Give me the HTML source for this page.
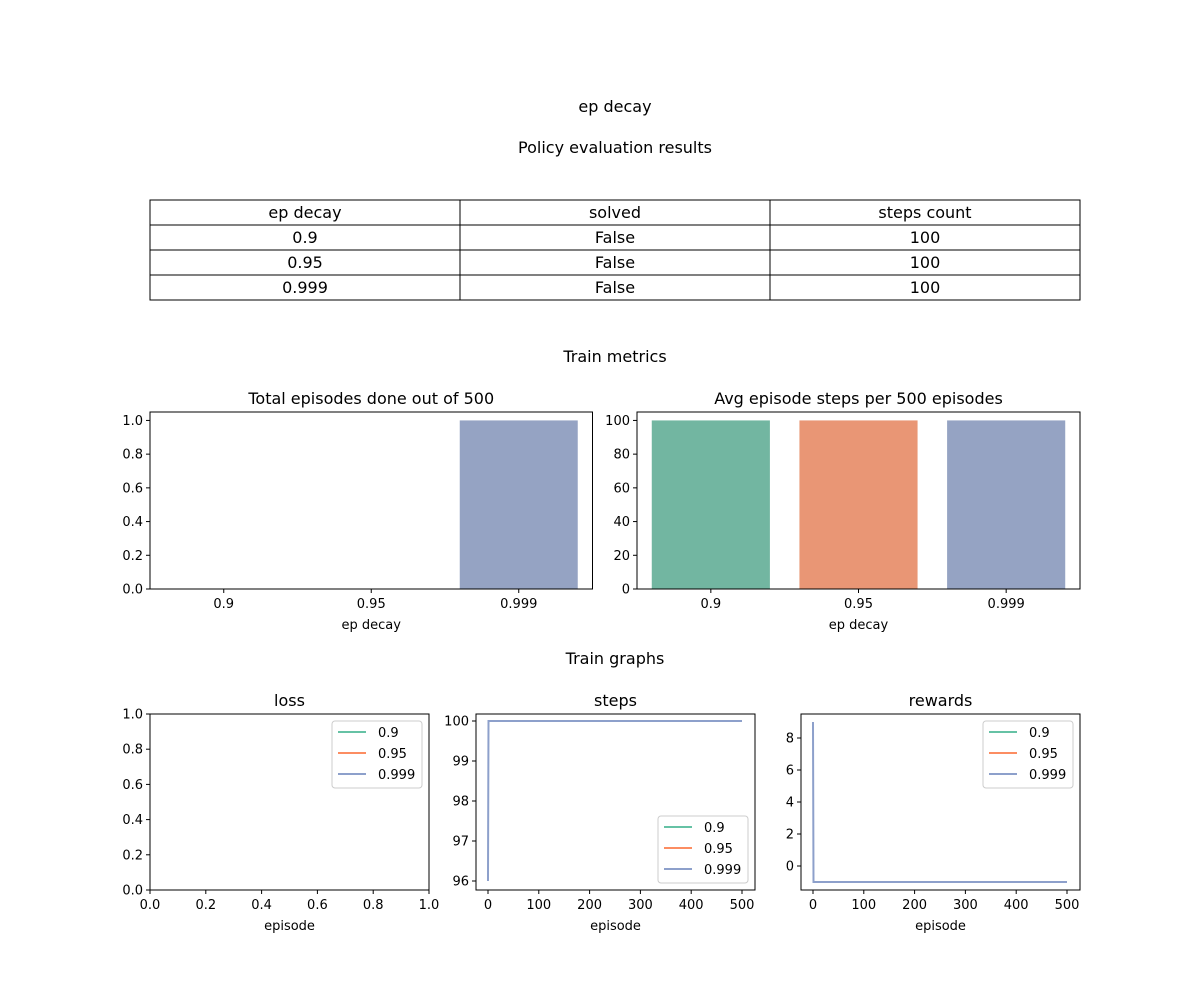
<!DOCTYPE html>
<html><head><meta charset="utf-8"><style>
body{margin:0;background:#fff;}
svg{display:block;font-family:"DejaVu Sans","Liberation Sans",sans-serif;}
</style></head><body>
<svg id="fig" width="1200" height="1000" viewBox="0 0 1200 1000">
<rect width="1200" height="1000" fill="#fff"/>
<text x="615" y="112" font-size="16" text-anchor="middle">ep decay</text>
<text x="615" y="153" font-size="16" text-anchor="middle">Policy evaluation results</text>
<g id="table"></g>
<text x="615" y="362" font-size="16" text-anchor="middle">Train metrics</text>
<text x="615" y="664" font-size="16" text-anchor="middle">Train graphs</text>
<g id="charts"></g>
</svg>
<script>
const tableHeader = ["ep decay","solved","steps count"];
const tableRows = [["0.9","False","100"],["0.95","False","100"],["0.999","False","100"]];
const categories = ["0.9","0.95","0.999"];
const episodesDone = [0,0,1];
const avgSteps = [100,100,100];
const barColors = ["#72b6a1","#e99675","#95a3c3"];
const lineColors = ["#66c2a5","#fc8d62","#8da0cb"];
const episodeX = [0,1,500];
const stepsSeries = [[100,100,100],[100,100,100],[96,100,100]];
const rewardsSeries = [[-1,-1,-1],[-1,-1,-1],[9,-1,-1]];
const lossSeries = [[],[],[]];

const NS="http://www.w3.org/2000/svg";
const svg=document.getElementById('fig');
function mk(tag,attrs,parent,text){const e=document.createElementNS(NS,tag);for(const k in attrs)e.setAttribute(k,attrs[k]);if(text!==undefined)e.textContent=text;(parent||svg).appendChild(e);return e;}

// table
const tg=document.getElementById('table');
const colX=[150,460,770,1080];
[tableHeader,...tableRows].forEach((row,r)=>{
  row.forEach((cell,c)=>{
    const y=200+r*25;
    const rc=mk('rect',{x:colX[c],y:y,width:colX[c+1]-colX[c],height:25,fill:'#fff',stroke:'#000','stroke-width':1},tg);
    
    
    const t=mk('text',{x:(colX[c]+colX[c+1])/2,y:y+18,'font-size':16,'text-anchor':'middle'},tg,cell);
    
    
  });
});

const cg=document.getElementById('charts');
function axesBox(x0,y0,x1,y1,name){
  const g=mk('g',{},cg);
  
  
  return g;
}
function frame(g,x0,y0,x1,y1){mk('rect',{x:x0,y:y0,width:x1-x0,height:y1-y0,fill:'none',stroke:'#000','stroke-width':1},g);}
function yTicks(g,x0,ticks,sy,fmt){
  ticks.forEach(v=>{const y=sy(v);mk('line',{x1:x0-4,x2:x0,y1:y,y2:y,stroke:'#000'},g);
    const t=mk('text',{x:x0-7,y:y+4.5,'font-size':13,'text-anchor':'end'},g,fmt(v));
    
    });
}
function xTicks(g,y1,ticks,sx,fmt){
  ticks.forEach(v=>{const x=sx(v);mk('line',{x1:x,x2:x,y1:y1,y2:y1+4,stroke:'#000'},g);
    const t=mk('text',{x:x,y:y1+19,'font-size':13,'text-anchor':'middle'},g,fmt(v));
    
    });
}
function title(g,x,y,s){const t=mk('text',{x:x,y:y,'font-size':16,'text-anchor':'middle'},g,s);
  
  }
function xlabel(g,x,y,s){const t=mk('text',{x:x,y:y,'font-size':13,'text-anchor':'middle'},g,s);
  
  }

function barChart(x0,x1,y0,y1,vals,ymax,ticks,fmt,name,ttl){
  const g=axesBox(x0,y0,x1,y1,name);
  const sy=v=>y1-(v/ymax)*(y1-y0);
  const band=(x1-x0)/categories.length;
  const sx=i=>x0+band*(i+0.5);
  vals.forEach((v,i)=>{const w=band*0.8;
    const b=mk('rect',{x:sx(i)-w/2,y:sy(v),width:w,height:y1-sy(v),fill:barColors[i]},g);
    
    });
  frame(g,x0,y0,x1,y1);
  yTicks(g,x0,ticks,sy,fmt);
  xTicks(g,y1,categories.map((c,i)=>i),sx,i=>categories[i]);
  title(g,(x0+x1)/2,404,ttl);
  xlabel(g,(x0+x1)/2,629,'ep decay');
}
barChart(150,592.5,412,589,episodesDone,1.05,[0,0.2,0.4,0.6,0.8,1.0],v=>v.toFixed(1),'episodes-done-chart','Total episodes done out of 500');
barChart(637,1080,412,589,avgSteps,105,[0,20,40,60,80,100],v=>String(v),'avg-steps-chart','Avg episode steps per 500 episodes');

function legend(g,lx,ly){
  const lg=mk('g',{},g);
  
  
  mk('rect',{x:lx,y:ly,width:90,height:67,rx:3,fill:'#fff','fill-opacity':0.8,stroke:'#ccc'},lg);
  categories.forEach((c,i)=>{const y=ly+11+i*21;
    mk('line',{x1:lx+6,x2:lx+34,y1:y,y2:y,stroke:lineColors[i],'stroke-width':2},lg);
    const t=mk('text',{x:lx+46,y:y+5,'font-size':13},lg,c);
    
    });
}
function lineChart(x0,x1,y0,y1,xmin,xmax,ymin,ymax,xt,yt,series,xfmt,yfmt,name,ttl,lpos){
  const g=axesBox(x0,y0,x1,y1,name);
  const sx=v=>x0+(v-xmin)/(xmax-xmin)*(x1-x0);
  const sy=v=>y1-(v-ymin)/(ymax-ymin)*(y1-y0);
  series.forEach((s,i)=>{ if(!s.length)return;
    const p=mk('polyline',{points:s.map((v,j)=>sx(episodeX[j])+','+sy(v)).join(' '),fill:'none',stroke:lineColors[i],'stroke-width':2},g);
    
    });
  frame(g,x0,y0,x1,y1);
  yTicks(g,x0,yt,sy,yfmt);
  xTicks(g,y1,xt,sx,xfmt);
  title(g,(x0+x1)/2,706,ttl);
  xlabel(g,(x0+x1)/2,930,'episode');
  legend(g,lpos[0],lpos[1]);
}
lineChart(150,429,714,890,0,1,0,1,[0,0.2,0.4,0.6,0.8,1.0],[0,0.2,0.4,0.6,0.8,1.0],lossSeries,v=>v.toFixed(1),v=>v.toFixed(1),'loss-chart','loss',[332,721]);
lineChart(476,755,714,890,-23.6,525.6,95.775,100.175,[0,100,200,300,400,500],[96,97,98,99,100],stepsSeries,String,String,'steps-chart','steps',[658,816]);
lineChart(801,1080,714,890,-23.6,525.6,-1.5,9.5,[0,100,200,300,400,500],[0,2,4,6,8],rewardsSeries,String,String,'rewards-chart','rewards',[983,721]);
</script>
</body></html>
